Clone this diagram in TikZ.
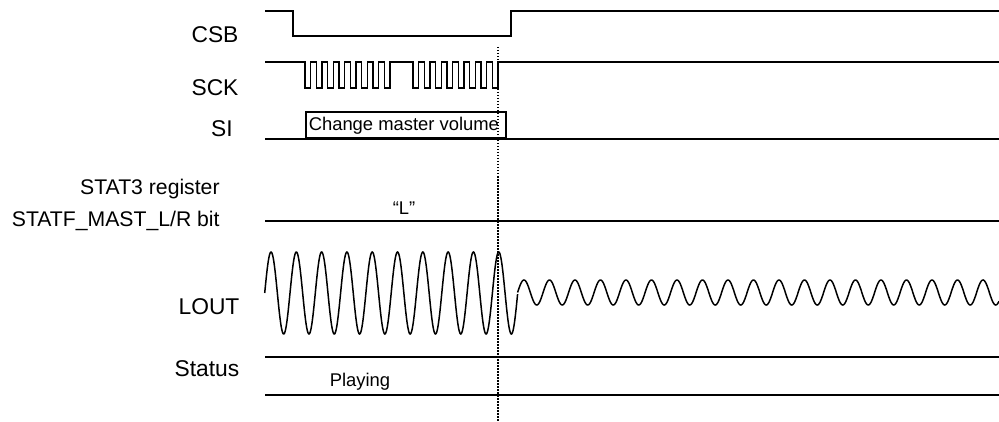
\documentclass[tikz,border=0pt]{standalone}
\usepackage{fontspec}
\setmainfont{Liberation Sans}
\usetikzlibrary{positioning}

\begin{document}
\begin{tikzpicture}[
  x=0.5pt, y=-0.5pt,
  wave/.style={line width=0.75pt, line join=miter},
  lbl/.style={font=\fontsize{11.4}{13}\selectfont, inner sep=0pt},
  reg/.style={font=\fontsize{10.6}{12}\selectfont, inner sep=0pt, anchor=east},
  txt/.style={font=\fontsize{9.2}{11}\selectfont, inner sep=0pt},
]
  \useasboundingbox (0,0) rectangle (999,422);
  \def\w{5.667}

  % signal names
  \node[lbl] (csb) at (215,35) {CSB};
  \node[lbl] (sck) at (215,88) {SCK};
  \node[lbl] (si) at (222,129) {SI};
  \node[reg] (stat) at (220,189) {STAT3 register};
  \node[reg] (mast) at (220,221) {STATF\_MAST\_L/R bit};
  \node[lbl] (lout) at (209,307) {LOUT};
  \node[lbl] (status) at (207,369) {Status};

  % CSB
  \draw[wave] (265,11) -- (293,11) -- (293,36) -- (511,36) -- (511,11) -- (999,11);

  % SCK, two bursts of eight clocks
  \draw[wave] (265,62) -- (305,62)
    \foreach \k in {0,...,7} { -- ++(0,26) -- ++(\w,0) -- ++(0,-26) -- ++(\w,0) }
    -- (413,62)
    \foreach \k in {0,...,7} { -- ++(0,26) -- ++(\w,0) -- ++(0,-26) -- ++(\w,0) }
    -- (999,62);

  % SI
  \draw[wave] (265,139) -- (999,139);
  \node[draw, line width=0.75pt, anchor=south west, minimum width=100pt,
        minimum height=13pt, inner sep=0pt, txt] (cmd) at (305,139)
    {\makebox[99pt][l]{\hspace{1pt}Change master volume}};

  % STAT3 register bit
  \draw[wave] (265,221) -- (999,221);
  \node[txt] (bitval) at (404,208) {“L”};

  % LOUT
  \draw[wave] plot[domain=264.7:517.6, samples=500, smooth]
    (\x, {293-41*sin(360/25.3*(\x-264.7))});
  \draw[wave] plot[domain=517.6:999, samples=700, smooth]
    (\x, {292.5-12.5*sin(360/25.5*(\x-517.6))});

  % Status
  \draw[wave] (265,357) -- (999,357);
  \draw[wave] (265,395) -- (999,395);
  \node[txt] (play) at (360,382) {Playing};

  % timing marker
  \coordinate (mtop) at (498,47);
  \coordinate (mbot) at (498,422);
  \draw[line width=0.75pt, dash pattern=on 0.75pt off 0.75pt] (mtop) -- (mbot);
\end{tikzpicture}
\end{document}
